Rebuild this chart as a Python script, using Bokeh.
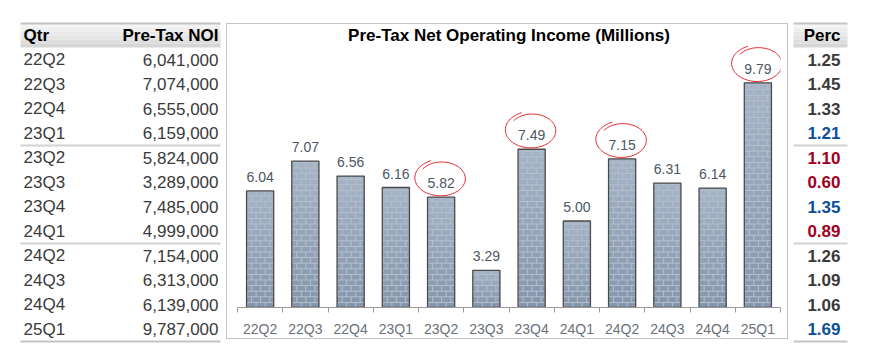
import numpy as np
from bokeh.plotting import figure
from bokeh.layouts import row
from bokeh.models import Range1d, FixedTicker, CustomJSTickFormatter, Label
from bokeh.core.properties import value
from bokeh.embed import file_html
from bokeh.resources import INLINE

# ---------------- data ----------------
quarters = ["22Q2", "22Q3", "22Q4", "23Q1", "23Q2", "23Q3",
            "23Q4", "24Q1", "24Q2", "24Q3", "24Q4", "25Q1"]
pretax_noi = [6041000, 7074000, 6555000, 6159000, 5824000, 3289000,
              7485000, 4999000, 7154000, 6313000, 6139000, 9787000]
perc = [1.25, 1.45, 1.33, 1.21, 1.10, 0.60, 1.35, 0.89, 1.26, 1.09, 1.06, 1.69]
circled = ["23Q2", "23Q4", "24Q2", "25Q1"]
chart_title = "Pre-Tax Net Operating Income (Millions)"

# ---------------- styles ----------------
FONT = value("Liberation Sans")
DARK = "#3a3a3a"
BLUE = "#0b4f9c"
RED = "#a3001f"
perc_colors = [DARK, DARK, DARK, BLUE, RED, RED, BLUE, RED, DARK, DARK, DARK, BLUE]
GROUP = 4
ROW_H = 24.5
HEAD_TOP = 23
HEAD_H = 24
FIG_H = 352

millions = [n / 1e6 for n in pretax_noi]
labels2 = ["%.2f" % (((n + 5000) // 10000) / 100) for n in pretax_noi]
noi_txt = ["{:,}".format(n) for n in pretax_noi]
perc_txt = ["%.2f" % v for v in perc]
n = len(quarters)
row_y = [HEAD_TOP + HEAD_H + ROW_H * (i + 0.5) for i in range(n)]


def table_fig(width):
    f = figure(width=width, height=FIG_H, x_range=Range1d(0, width), y_range=Range1d(FIG_H, 0),
               output_backend="svg", toolbar_location=None, min_border=0,
               x_axis_location=None, y_axis_location=None, frame_align=False)
    f.grid.visible = False
    f.outline_line_color = None
    return f


def header_band(f, x0, x1):
    shades = ["#f4f4f4", "#eeeeee", "#e9e9e9", "#e4e4e4", "#dedede", "#d6d6d6"]
    k = len(shades)
    tops = [HEAD_TOP + HEAD_H * j / k for j in range(k)]
    bots = [HEAD_TOP + HEAD_H * (j + 1) / k for j in range(k)]
    f.quad(left=x0, right=x1, top=tops, bottom=bots, fill_color=shades, line_color=None)
    f.segment(x0=x0, x1=x1, y0=HEAD_TOP, y1=HEAD_TOP, line_color="#c4c4c4", line_width=2)
    seps = [HEAD_TOP + HEAD_H + ROW_H * g for g in range(GROUP, n, GROUP)]
    f.segment(x0=x0, x1=x1, y0=seps, y1=seps, line_color="#d2d2d2", line_width=2)
    bottom = HEAD_TOP + HEAD_H + ROW_H * n
    f.segment(x0=x0, x1=x1, y0=bottom, y1=bottom, line_color="#c4c4c4", line_width=2)


# ---------------- left table ----------------
t = table_fig(226)
header_band(t, 20, 220)
hy = HEAD_TOP + HEAD_H / 2
t.text(x=[23], y=[hy], text=["Qtr"], text_font=FONT, text_font_size="17px",
       text_font_style="bold", text_color="#000000", text_baseline="middle", text_align="left")
t.text(x=[218], y=[hy], text=["Pre-Tax NOI"], text_font=FONT, text_font_size="17px",
       text_font_style="bold", text_color="#000000", text_baseline="middle", text_align="right")
t.text(x=[23] * n, y=row_y, text=quarters, text_font=FONT, text_font_size="17px",
       text_color=DARK, text_baseline="middle", text_align="left")
t.text(x=[218] * n, y=row_y, text=noi_txt, text_font=FONT, text_font_size="17px",
       text_color=DARK, text_baseline="middle", text_align="right")

# ---------------- chart ----------------
PX_X = 45.17
PX_Y = 28.85
FRAME_H = 283
BASE = 2
c = figure(width=562, height=316, x_range=Range1d(0, n), y_range=Range1d(BASE, BASE + FRAME_H / PX_Y),
           output_backend="svg", toolbar_location=None,
           min_border_left=10, min_border_right=9, min_border_top=0, min_border_bottom=33,
           y_axis_location=None, frame_align=False,
           styles={"border": "1px solid #c4c4c4", "margin-top": "23px"})
c.grid.visible = False
c.outline_line_color = None

xs = [i + 0.5 for i in range(n)]
BW = 0.6

# brick texture
c.vbar(x=xs, top=millions, bottom=BASE, width=BW, fill_color="#b3bfcd", line_color=None)
rh = 5.6 / PX_Y
gx = 1.0 / PX_X
gy = 1.0 / PX_Y
bw = BW / 3
L, R, T, B, C = [], [], [], [], []
top_c = np.array([0xa6, 0xb4, 0xc6])
bot_c = np.array([0x86, 0x96, 0xad])
for i, v in enumerate(millions):
    xl, xr = xs[i] - BW / 2, xs[i] + BW / 2
    r = 0
    y0 = BASE
    while y0 < v:
        y1 = min(y0 + rh - gy, v)
        frac = (y0 - BASE) / (v - BASE)
        col = bot_c + (top_c - bot_c) * frac
        hexc = "#%02x%02x%02x" % tuple(int(round(q)) for q in col)
        off = 0 if r % 2 == 0 else bw / 2
        bx = xl - off
        while bx < xr:
            l = max(bx + gx, xl)
            rr = min(bx + bw, xr)
            if rr - l > gx * 0.5:
                L.append(l); R.append(rr); B.append(y0); T.append(y1); C.append(hexc)
            bx += bw
        y0 += rh
        r += 1
c.quad(left=L, right=R, top=T, bottom=B, fill_color=C, line_color=None)
c.vbar(x=xs, top=millions, bottom=BASE, width=BW, fill_color=None,
       line_color="#4a4a4a", line_width=1.3)

# value labels
c.text(x=xs, y=millions, text=labels2, text_font=FONT, text_font_size="14px",
       text_color="#4c5763", text_align="center", text_baseline="middle", y_offset=-14)

# hand-drawn red circles
for q in circled:
    i = quarters.index(q)
    cx = xs[i]
    cy = millions[i] + 19 / PX_Y
    rx = 25 / PX_X
    ry = 17.5 / PX_Y
    th = np.linspace(2.5, 2.5 - 2 * np.pi - 0.55, 90)
    k = np.linspace(0.9, 1.08, 90)
    c.line(x=cx + rx * k * np.cos(th), y=cy + ry * k * np.sin(th),
           line_color="#e8262d", line_width=1)

c.add_layout(Label(x=n / 2, y=BASE + (306.7 - 35) / PX_Y, text=chart_title,
                   text_font="Liberation Sans", text_font_size="17px", text_font_style="bold",
                   text_color="#000000", text_align="center", text_baseline="middle"))

ax = c.xaxis[0]
ax.ticker = FixedTicker(ticks=xs, minor_ticks=list(range(n + 1)))
ax.formatter = CustomJSTickFormatter(args=dict(labels=quarters),
                                     code="return labels[Math.floor(tick)] || ''")
ax.major_tick_out = 0
ax.major_tick_in = 0
ax.minor_tick_out = 5
ax.minor_tick_in = 0
ax.minor_tick_line_color = "#9a9a9a"
ax.axis_line_color = "#9a9a9a"
ax.major_label_text_font = "Liberation Sans"
ax.major_label_text_font_size = "14px"
ax.major_label_text_color = "#6b7179"
ax.major_label_standoff = 8

# ---------------- right "Perc" column ----------------
p2 = table_fig(70)
header_band(p2, 5, 59)
p2.text(x=[52], y=[hy], text=["Perc"], text_font=FONT, text_font_size="17px",
        text_font_style="bold", text_color="#000000", text_baseline="middle", text_align="right")
p2.text(x=[52] * n, y=row_y, text=perc_txt, text_font=FONT, text_font_size="17px",
        text_font_style="bold", text_color=perc_colors, text_baseline="middle", text_align="right")

layout = row(t, c, p2, spacing=0)
open("out.html", "w").write(file_html(layout, INLINE))
